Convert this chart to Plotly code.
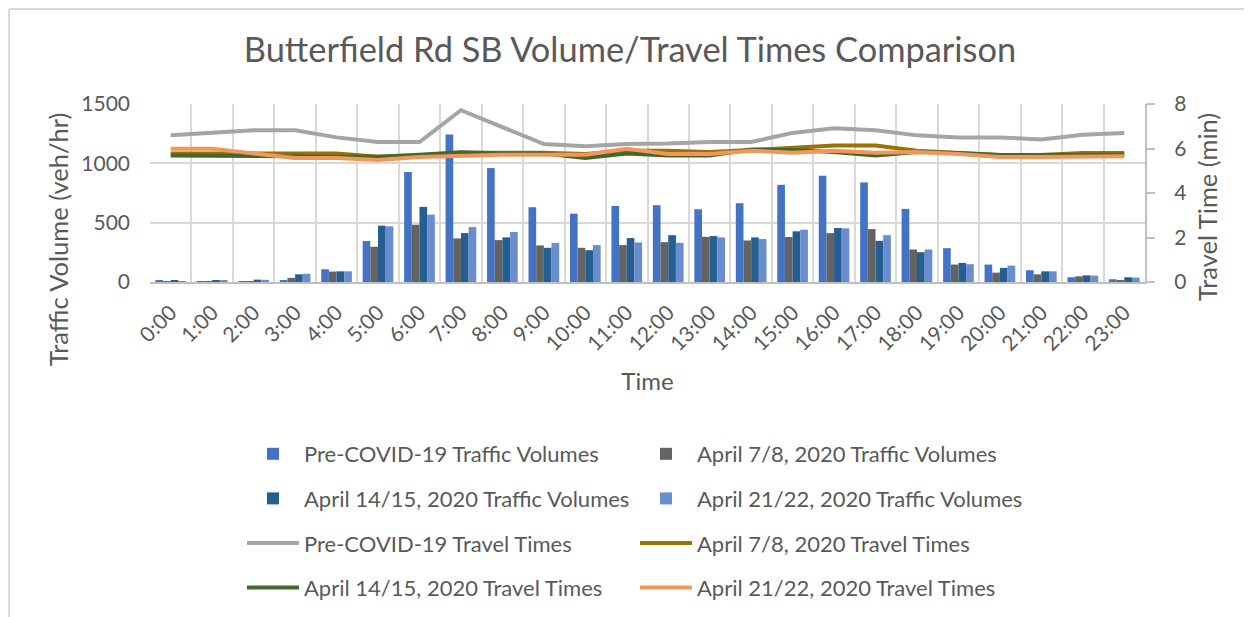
import plotly.graph_objects as go

hours = [f"{h}:00" for h in range(24)]

pre_vol = [10, 6, 4, 15, 107, 345, 927, 1243, 960, 630, 576, 641, 647, 613, 664, 819, 896, 839, 616, 285, 147, 99, 40, 23]
apr7_vol = [6, 5, 4, 35, 88, 297, 483, 367, 353, 308, 288, 311, 336, 381, 350, 379, 412, 446, 274, 147, 79, 65, 48, 14]
apr14_vol = [15, 14, 20, 65, 90, 475, 633, 412, 376, 288, 268, 370, 395, 387, 376, 427, 455, 347, 251, 161, 119, 90, 56, 40]
apr21_vol = [8, 12, 18, 70, 90, 469, 568, 463, 421, 330, 311, 333, 330, 376, 362, 441, 452, 395, 274, 150, 138, 90, 54, 37]

pre_tt = [6.59, 6.70, 6.82, 6.82, 6.50, 6.29, 6.29, 7.72, 6.97, 6.20, 6.10, 6.20, 6.22, 6.29, 6.29, 6.70, 6.91, 6.82, 6.59, 6.50, 6.50, 6.40, 6.62, 6.70]
apr7_tt = [5.77, 5.77, 5.77, 5.77, 5.77, 5.63, 5.69, 5.81, 5.81, 5.81, 5.75, 5.90, 5.90, 5.84, 5.93, 6.02, 6.13, 6.13, 5.90, 5.80, 5.71, 5.71, 5.80, 5.80]
apr14_tt = [5.69, 5.69, 5.69, 5.65, 5.63, 5.63, 5.72, 5.83, 5.78, 5.77, 5.57, 5.78, 5.69, 5.68, 5.95, 5.93, 5.84, 5.69, 5.84, 5.80, 5.71, 5.71, 5.72, 5.72]
apr21_tt = [5.99, 5.99, 5.78, 5.57, 5.57, 5.48, 5.62, 5.69, 5.72, 5.72, 5.72, 5.99, 5.75, 5.75, 5.90, 5.81, 5.90, 5.81, 5.84, 5.75, 5.62, 5.62, 5.65, 5.65]

FONT = "Lato"
TXT = "#595959"
GRID = "#D9D9D9"

# plot area in figure pixels
L, R, T, B = 142, 1137, 96, 274
PW, PH = R - L, B - T

fig = go.Figure()

bars = [
    ("Pre-COVID-19 Traffic Volumes", pre_vol, "#4472C4", "legend"),
    ("April 7/8, 2020 Traffic Volumes", apr7_vol, "#636363", "legend2"),
    ("April 14/15, 2020 Traffic Volumes", apr14_vol, "#255E91", "legend"),
    ("April 21/22, 2020 Traffic Volumes", apr21_vol, "#698ED0", "legend2"),
]
for i, (name, vals, col, lg) in enumerate(bars):
    fig.add_trace(go.Bar(x=hours, y=vals, name=name, marker_color=col,
                         marker_line_width=0, legend=lg, legendgroup=f"g{i}",
                         legendrank=i))

lines = [
    ("Pre-COVID-19 Travel Times", pre_tt, "#A5A5A5", "legend"),
    ("April 7/8, 2020 Travel Times", apr7_tt, "#997300", "legend2"),
    ("April 14/15, 2020 Travel Times", apr14_tt, "#43682B", "legend"),
    ("April 21/22, 2020 Travel Times", apr21_tt, "#F1975A", "legend2"),
]
for i, (name, vals, col, lg) in enumerate(lines):
    fig.add_trace(go.Scatter(x=hours, y=vals, name=name, mode="lines",
                             line=dict(color=col, width=4), yaxis="y2",
                             legend=lg, legendgroup=f"l{i}", legendrank=10 + i))

leg_common = dict(yanchor="top", xanchor="left", traceorder="grouped",
                  tracegroupgap=13, font=dict(size=22, color=TXT, family=FONT),
                  itemwidth=52, y=(B - 425) / PH)

fig.update_layout(
    width=1252, height=617,
    margin=dict(l=L, r=1252 - R, t=T, b=617 - B, autoexpand=False),
    paper_bgcolor="white", plot_bgcolor="white",
    font=dict(family=FONT, color=TXT, size=21),
    title=dict(text="Butterfield Rd SB Volume/Travel Times Comparison",
               x=622 / 1252, xanchor="center", y=1 - 42 / 617, yanchor="middle",
               font=dict(size=34.4, color=TXT, family=FONT)),
    barmode="group", bargap=0.26, bargroupgap=0,
    xaxis=dict(type="category", tickson="boundaries", showgrid=True,
               gridcolor=GRID, gridwidth=2, tickangle=-45, ticks="",
               showline=True, linecolor="#BFBFBF", linewidth=2,
               ticklabelstandoff=8, automargin=False,
               tickfont=dict(size=21),
               title=dict(text="Time", font=dict(size=24), standoff=19)),
    yaxis=dict(range=[0, 1500], dtick=500, showgrid=True, gridcolor=GRID,
               gridwidth=2, zeroline=False, ticks="", tickfont=dict(size=21),
               ticklabelstandoff=19, automargin=False),
    yaxis2=dict(range=[0, 8], dtick=2, overlaying="y", side="right",
                showgrid=False, zeroline=False, showline=True,
                linecolor="#BFBFBF", linewidth=2, ticks="outside", ticklen=8,
                tickcolor="#BFBFBF", tickwidth=2, tickfont=dict(size=21),
                ticklabelstandoff=15, automargin=False),
    legend=dict(x=(234 - L) / PW, **leg_common),
    legend2=dict(x=(627 - L) / PW, **leg_common),
    showlegend=True,
    annotations=[
        dict(text="Traffic Volume (veh/hr)", textangle=-90, showarrow=False,
             xref="paper", yref="paper", x=(50 - L) / PW, y=(B - 232) / PH,
             xanchor="center", yanchor="middle", font=dict(size=25.5, color=TXT)),
        dict(text="Travel Time (min)", textangle=-90, showarrow=False,
             xref="paper", yref="paper", x=(1199 - L) / PW, y=(B - 199) / PH,
             xanchor="center", yanchor="middle", font=dict(size=25.5, color=TXT)),
    ],
    shapes=[
        dict(type="line", xref="paper", yref="paper",
             x0=(1 - L) / PW, x1=(1252 - L) / PW,
             y0=(B - 1) / PH, y1=(B - 1) / PH,
             line=dict(color="#D9D9D9", width=2)),
        dict(type="line", xref="paper", yref="paper",
             x0=(1 - L) / PW, x1=(1 - L) / PW,
             y0=(B - 1) / PH, y1=(B - 617) / PH,
             line=dict(color="#D9D9D9", width=2)),
    ],
)

fig.write_html("out.html")
